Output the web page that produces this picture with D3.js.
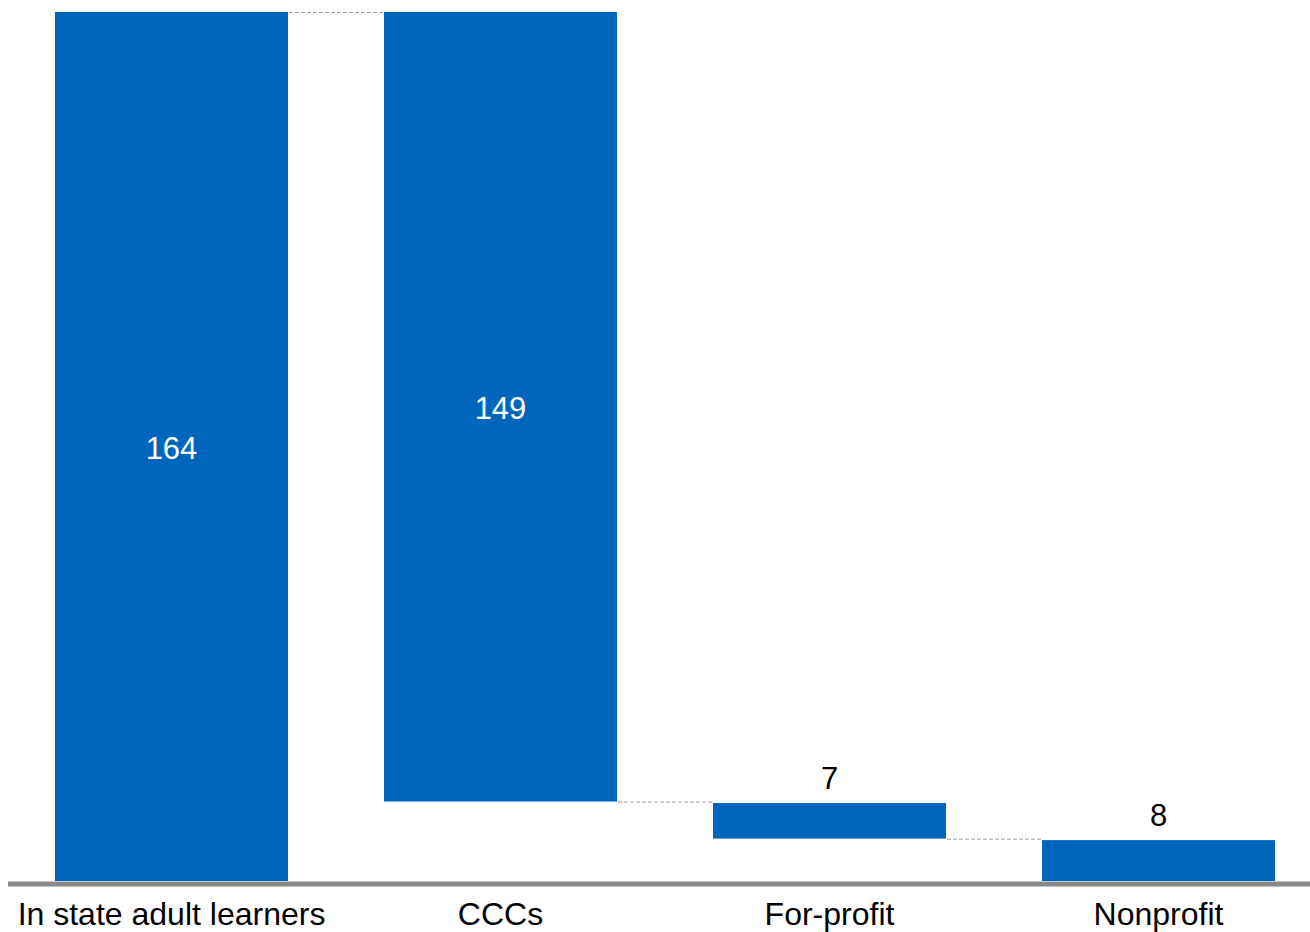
<!DOCTYPE html>
<html>
<head>
<meta charset="utf-8">
<script src="https://cdn.jsdelivr.net/npm/d3@7"></script>
<style>
  html, body { margin: 0; padding: 0; background: #ffffff; }
  svg { display: block; font-family: "Liberation Sans", Arial, sans-serif; }
</style>
</head>
<body>
<svg id="chart" width="1310" height="932"></svg>
<script>
const categories = ["In state adult learners", "CCCs", "For-profit", "Nonprofit"];
const values = [164, 149, 7, 8];
const kinds = ["total", "decrease", "decrease", "decrease"];

// build waterfall segments
let running = 0;
const segs = categories.map((c, i) => {
  let start, end;
  if (kinds[i] === "total") { start = 0; end = values[i]; running = values[i]; }
  else { start = running; end = running - values[i]; running = end; }
  return { cat: c, value: values[i], start, end, kind: kinds[i] };
});

const svg = d3.select("#chart");
const x = d3.scaleBand().domain(categories).range([7, 1323]).paddingInner(0.2918).paddingOuter(0.1459);
const y = d3.scaleLinear().domain([0, 164]).range([881, 12]);
const barColor = "#0065BD";

// connectors
const conn = svg.append("g");
segs.forEach((s, i) => {
  if (i === segs.length - 1) return;
  const lvl = s.end;
  conn.append("line")
    .attr("x1", x(s.cat) + x.bandwidth() + 1)
    .attr("x2", x(segs[i + 1].cat) - 1)
    .attr("y1", y(lvl) + 0.5)
    .attr("y2", y(lvl) + 0.5)
    .attr("stroke", "#9a9a9a")
    .attr("stroke-width", 1)
    .attr("stroke-dasharray", "4,2");
});

// bars
svg.append("g").selectAll("rect").data(segs).join("rect")
  .attr("x", d => x(d.cat))
  .attr("width", x.bandwidth())
  .attr("y", d => y(Math.max(d.start, d.end)) + (d.kind === "decrease" && d.start < 164 ? 1.5 : 0))
  .attr("height", d => Math.abs(y(d.start) - y(d.end)) - (d.kind === "decrease" && d.start < 164 ? 1.5 : 0))
  .attr("fill", barColor);

// axis line
const xAxis = d3.axisBottom(x).tickSize(0).tickPadding(0);
const ax = svg.append("g").attr("transform", "translate(0,884)").call(xAxis);
ax.select(".domain").remove();
ax.append("line").attr("x1", 8).attr("x2", 1310).attr("y1", 0).attr("y2", 0)
  .attr("stroke", "#898989").attr("stroke-width", 5);
ax.selectAll(".tick text")
  .attr("y", 41)
  .attr("dy", 0)
  .attr("fill", "#000")
  .style("font-size", "32px")
  .style("font-family", "'Liberation Sans', Arial, sans-serif");

// value labels
svg.append("g").selectAll("text").data(segs).join("text")
  .attr("x", d => x(d.cat) + x.bandwidth() / 2)
  .attr("y", d => {
    const h = Math.abs(y(d.start) - y(d.end));
    const top = y(Math.max(d.start, d.end));
    return h > 60 ? top + h / 2 + 12 : top - 13;
  })
  .attr("text-anchor", "middle")
  .attr("fill", d => Math.abs(y(d.start) - y(d.end)) > 60 ? "#ffffff" : "#000000")
  .style("font-size", "31px")
  .text(d => d.value);
</script>
</body>
</html>
